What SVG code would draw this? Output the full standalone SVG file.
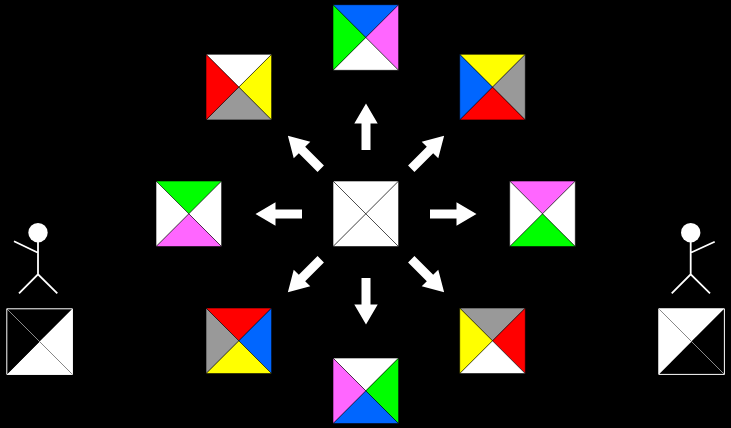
<svg xmlns="http://www.w3.org/2000/svg" width="731" height="428" viewBox="0 0 731 428">
<style>
.b{fill:#0066ff}.g{fill:#00ff00}.m{fill:#ff66ff}.w{fill:#ffffff}.y{fill:#ffff00}.r{fill:#ff0000}.a{fill:#999999}.k{fill:#000000}
.d{stroke:#000;stroke-width:.6;fill:none}
.f{stroke:#fff;stroke-width:1;fill:none}
.e{stroke:#888;stroke-width:1;fill:none}
.s{stroke:#fff;stroke-width:1.8;fill:none}
.arrow{fill:#fff}
</style>
<defs>
<path id="t" d="M0 0H65.6L32.8 32.8Z"/>
<path id="u" d="M65.6 0V65.6L32.8 32.8Z"/>
<path id="v" d="M0 65.6H65.6L32.8 32.8Z"/>
<path id="l" d="M0 0V65.6L32.8 32.8Z"/>
<path id="x" class="d" d="M0 0L65.6 65.6M65.6 0L0 65.6M0 0H65.6V65.6H0Z"/>
<path id="ar" class="arrow" d="M-4.5 -64V-90.5H-11.7L0 -110.5L11.7 -90.5H4.5V-64Z"/>
</defs>
<rect width="731" height="428" fill="#000"/>
<g id="connectors">
<use href="#ar" transform="translate(366 214)"/>
<use href="#ar" transform="translate(366 214) rotate(45)"/>
<use href="#ar" transform="translate(366 214) rotate(90)"/>
<use href="#ar" transform="translate(366 214) rotate(135)"/>
<use href="#ar" transform="translate(366 214) rotate(180)"/>
<use href="#ar" transform="translate(366 214) rotate(225)"/>
<use href="#ar" transform="translate(366 214) rotate(270)"/>
<use href="#ar" transform="translate(366 214) rotate(315)"/>
</g>
<g id="center" transform="translate(333 181)"><use href="#t" class="w"/><use href="#u" class="w"/><use href="#v" class="w"/><use href="#l" class="w"/><use href="#x"/></g>
<g id="n-top" transform="translate(333 4.7)"><use href="#t" class="b"/><use href="#u" class="m"/><use href="#v" class="w"/><use href="#l" class="g"/><use href="#x"/></g>
<g id="n-top-right" transform="translate(459.7 54.3)"><use href="#t" class="y"/><use href="#u" class="a"/><use href="#v" class="r"/><use href="#l" class="b"/><use href="#x"/></g>
<g id="n-right" transform="translate(509.7 181)"><use href="#t" class="m"/><use href="#u" class="w"/><use href="#v" class="g"/><use href="#l" class="w"/><use href="#x"/></g>
<g id="n-bottom-right" transform="translate(459.7 308)"><use href="#t" class="a"/><use href="#u" class="r"/><use href="#v" class="w"/><use href="#l" class="y"/><use href="#x"/></g>
<g id="n-bottom" transform="translate(333 358)"><use href="#t" class="w"/><use href="#u" class="g"/><use href="#v" class="b"/><use href="#l" class="m"/><use href="#x"/></g>
<g id="n-bottom-left" transform="translate(206 308)"><use href="#t" class="r"/><use href="#u" class="b"/><use href="#v" class="y"/><use href="#l" class="a"/><use href="#x"/></g>
<g id="n-left" transform="translate(156 181)"><use href="#t" class="g"/><use href="#u" class="w"/><use href="#v" class="m"/><use href="#l" class="w"/><use href="#x"/></g>
<g id="n-top-left" transform="translate(206 54.3)"><use href="#t" class="w"/><use href="#u" class="y"/><use href="#v" class="a"/><use href="#l" class="r"/><use href="#x"/></g>
<g id="box-left" transform="translate(6.8 308.8)"><use href="#t" class="k"/><use href="#u" class="w"/><use href="#v" class="w"/><use href="#l" class="k"/><path class="e" d="M0 0L65.6 65.6"/><path class="f" d="M0 0H65.6V65.6H0Z"/></g>
<g id="box-right" transform="translate(658.8 308.8)"><use href="#t" class="w"/><use href="#u" class="k"/><use href="#v" class="k"/><use href="#l" class="w"/><path class="e" d="M0 0L65.6 65.6"/><path class="f" d="M0 0H65.6V65.6H0Z"/></g>
<g id="person-left"><circle cx="38" cy="232.7" r="9.7" fill="#fff"/><path class="s" d="M38 242V274.3M19 293.3L38 274.3L57.3 293.3M38 252.7L14 241.3"/></g>
<g id="person-right"><circle cx="690.7" cy="232.7" r="9.7" fill="#fff"/><path class="s" d="M690.7 242V274.3M671.7 293.3L690.7 274.3L710 293.3M690.7 252.7L714.7 241.7"/></g>
</svg>
